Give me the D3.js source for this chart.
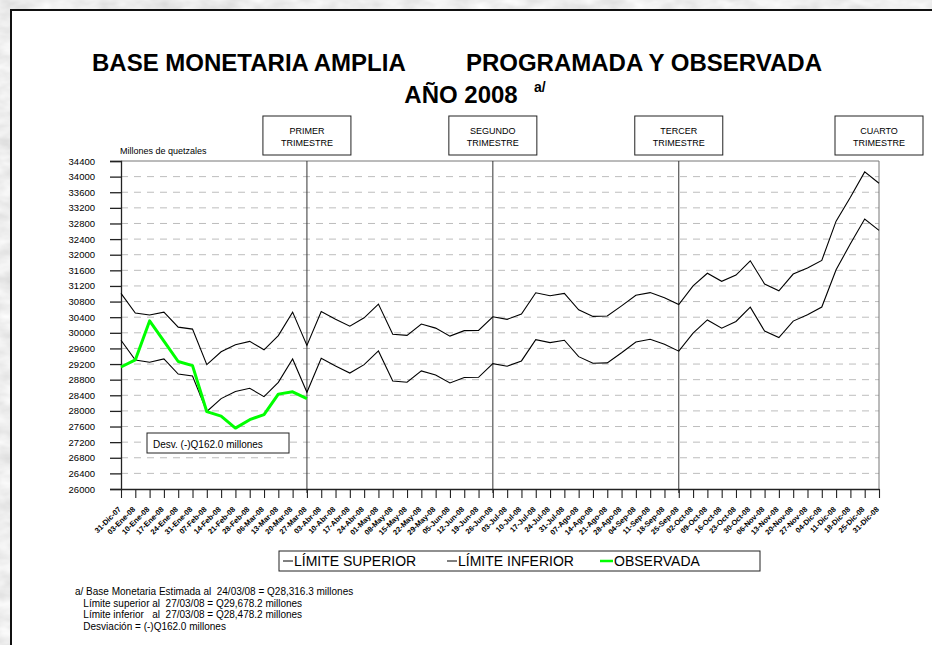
<!DOCTYPE html>
<html>
<head>
<meta charset="utf-8">
<script src="https://cdn.jsdelivr.net/npm/d3@7"></script>
<style>
  body { margin: 0; background: #d8d8d8; }
  text { font-family: Arial, "Liberation Sans", sans-serif; }
</style>
</head>
<body>
<div id="chart"></div>
<script>
(function () {

  // fechas semanales (eje x)
  var dates = ["31-Dic-07", "03-Ene-08", "10-Ene-08", "17-Ene-08", "24-Ene-08", "31-Ene-08",
    "07-Feb-08", "14-Feb-08", "21-Feb-08", "28-Feb-08", "06-Mar-08", "13-Mar-08", "20-Mar-08",
    "27-Mar-08", "03-Abr-08", "10-Abr-08", "17-Abr-08", "24-Abr-08", "01-May-08", "08-May-08",
    "15-May-08", "22-May-08", "29-May-08", "05-Jun-08", "12-Jun-08", "19-Jun-08", "26-Jun-08",
    "03-Jul-08", "10-Jul-08", "17-Jul-08", "24-Jul-08", "31-Jul-08", "07-Ago-08", "14-Ago-08",
    "21-Ago-08", "28-Ago-08", "04-Sep-08", "11-Sep-08", "18-Sep-08", "25-Sep-08", "02-Oct-08",
    "09-Oct-08", "16-Oct-08", "23-Oct-08", "30-Oct-08", "06-Nov-08", "13-Nov-08", "20-Nov-08",
    "27-Nov-08", "04-Dic-08", "11-Dic-08", "18-Dic-08", "25-Dic-08", "31-Dic-08"]

  var upper = [31010, 30505, 30455, 30530, 30145, 30095, 29185, 29515, 29695, 29780, 29565, 29930, 30530, 29678,
    30545, 30350, 30170, 30385, 30735, 29965, 29935, 30225, 30120, 29915, 30055, 30060, 30410,
    30345, 30480, 31025, 30950, 31010, 30590, 30420, 30430, 30690, 30960, 31030, 30900, 30725,
    31200, 31525, 31320, 31480, 31845, 31250, 31075, 31505, 31660, 31855, 32860, 33470, 34120, 33830]

  var lower = [29810, 29305, 29245, 29330, 28945, 28895, 27985, 28315, 28495, 28580, 28365, 28730, 29330, 28478,
    29345, 29150, 28970, 29185, 29535, 28765, 28735, 29025, 28920, 28715, 28855, 28860, 29210,
    29145, 29280, 29825, 29750, 29810, 29390, 29220, 29230, 29490, 29765, 29835, 29705, 29530,
    29990, 30330, 30120, 30290, 30655, 30045, 29880, 30300, 30465, 30660, 31615, 32280, 32915, 32625]

  var observed = [29125, 29305, 30305, 29785, 29265, 29160, 27980, 27865, 27560, 27775, 27905, 28430, 28490, 28316]

  var yTicks = [26000, 26400, 26800, 27200, 27600, 28000, 28400, 28800, 29200, 29600, 30000,
    30400, 30800, 31200, 31600, 32000, 32400, 32800, 33200, 33600, 34000, 34400]

  var quarterEnds = ["27-Mar-08", "26-Jun-08", "25-Sep-08"]
  var quarterBoxes = [
    { at: "27-Mar-08", l1: "PRIMER", l2: "TRIMESTRE" },
    { at: "26-Jun-08", l1: "SEGUNDO", l2: "TRIMESTRE" },
    { at: "25-Sep-08", l1: "TERCER", l2: "TRIMESTRE" },
    { at: "31-Dic-08", l1: "CUARTO", l2: "TRIMESTRE" }
  ]
  var legendItems = [
    { name: "LÍMITE SUPERIOR", color: "#000", w: 1, x: 283, len: 10 },
    { name: "LÍMITE INFERIOR", color: "#000", w: 1, x: 447, len: 10 },
    { name: "OBSERVADA", color: "#00ff00", w: 2.5, x: 600, len: 13 }
  ]
  var notes = [
    "a/ Base Monetaria Estimada al  24/03/08 = Q28,316.3 millones",
    "   Límite superior al  27/03/08 = Q29,678.2 millones",
    "   Límite inferior   al  27/03/08 = Q28,478.2 millones",
    "   Desviación = (-)Q162.0 millones"
  ]

  var W = 932, H = 645
  var plot = { left: 121, right: 879, top: 161, bottom: 489 }

  var svg = d3.select("#chart")
    .append("svg")
    .attr("width", W)
    .attr("height", H)
    .style("display", "block")

  // fondo tipo marmol
  var f = svg.append("defs").append("filter")
    .attr("id", "marble")
    .attr("x", 0).attr("y", 0).attr("width", "100%").attr("height", "100%")
  f.append("feTurbulence")
    .attr("type", "fractalNoise")
    .attr("baseFrequency", "0.04 0.08")
    .attr("numOctaves", 3)
    .attr("seed", 4)
  f.append("feColorMatrix")
    .attr("type", "matrix")
    .attr("values", "0 0 0 0.35 0.68  0 0 0 0.35 0.68  0 0 0 0.35 0.68  0 0 0 0 1")

  svg.append("rect")
    .attr("width", W).attr("height", H)
    .attr("filter", "url(#marble)")

  // panel blanco
  svg.append("rect")
    .attr("x", 11).attr("y", 10)
    .attr("width", W).attr("height", H)
    .attr("fill", "white")
  svg.append("path")
    .attr("d", "M11," + H + "V10H" + W)
    .attr("fill", "none")
    .attr("stroke", "#111")
    .attr("stroke-width", 2)

  var xPositionScale = d3.scalePoint()
    .domain(dates)
    .range([plot.left, plot.right])

  var yPositionScale = d3.scaleLinear()
    .domain([26000, 34400])
    .range([plot.bottom, plot.top])

  // grid
  svg.selectAll(".grid")
    .data(yTicks.slice(1, -1))
    .enter().append("line")
    .attr("class", "grid")
    .attr("x1", plot.left)
    .attr("x2", plot.right)
    .attr("y1", function(d) { return yPositionScale(d) })
    .attr("y2", function(d) { return yPositionScale(d) })
    .attr("stroke", "#bdbdbd")
    .attr("stroke-dasharray", "7,6")

  // marco
  svg.append("path")
    .attr("d", "M" + plot.left + "," + plot.top + "H" + plot.right + "V" + plot.bottom)
    .attr("fill", "none")
    .attr("stroke", "#777")

  svg.selectAll(".qline")
    .data(quarterEnds)
    .enter().append("line")
    .attr("class", "qline")
    .attr("x1", function(d) { return xPositionScale(d) })
    .attr("x2", function(d) { return xPositionScale(d) })
    .attr("y1", plot.top)
    .attr("y2", plot.bottom + 4)
    .attr("stroke", "#333")

  var yAxis = d3.axisLeft(yPositionScale)
    .tickValues(yTicks)
    .tickSize(11)
    .tickPadding(15)
    .tickFormat(function(d) { return d })

  var yg = svg.append("g")
    .attr("class", "axis y-axis")
    .attr("transform", "translate(" + plot.left + ",0)")
    .call(yAxis)
  yg.select(".domain").attr("stroke", "#222").attr("stroke-width", 1.3)
  yg.selectAll(".tick line").attr("stroke", "#222").attr("stroke-width", 1.3)
  yg.selectAll("text")
    .attr("font-size", "9.5px")
    .attr("fill", "#000")
    .attr("font-family", "Arial, 'Liberation Sans', sans-serif")

  var xAxis = d3.axisBottom(xPositionScale)
    .tickSize(9)
    .tickSizeOuter(0)

  var xg = svg.append("g")
    .attr("class", "axis x-axis")
    .attr("transform", "translate(0," + plot.bottom + ")")
    .call(xAxis)
  xg.select(".domain").attr("stroke", "#222").attr("stroke-width", 1.3)
  xg.selectAll(".tick line").attr("stroke", "#222").attr("stroke-width", 1.1)
  xg.selectAll("text")
    .attr("font-size", "7.5px")
    .attr("font-weight", "bold")
    .attr("fill", "#000")
    .attr("font-family", "Arial, 'Liberation Sans', sans-serif")
    .attr("text-anchor", "end")
    .attr("y", 0)
    .attr("dy", "0.35em")
    .attr("transform", "translate(-2,19) rotate(-45)")

  var line = d3.line()
    .x(function(d, i) { return xPositionScale(dates[i]) })
    .y(function(d) { return yPositionScale(d) })

  svg.append("path")
    .datum(upper)
    .attr("d", line)
    .attr("fill", "none")
    .attr("stroke", "#000")
    .attr("stroke-width", 1.1)

  svg.append("path")
    .datum(lower)
    .attr("d", line)
    .attr("fill", "none")
    .attr("stroke", "#000")
    .attr("stroke-width", 1.1)

  svg.append("path")
    .datum(observed)
    .attr("d", line)
    .attr("fill", "none")
    .attr("stroke", "#00ff00")
    .attr("stroke-width", 3)
    .attr("stroke-linejoin", "round")

  // cajas de trimestre
  var qb = svg.selectAll(".qbox")
    .data(quarterBoxes)
    .enter().append("g")
    .attr("class", "qbox")
    .attr("transform", function(d) { return "translate(" + xPositionScale(d.at) + ",0)" })
  qb.append("rect")
    .attr("x", -44).attr("y", 116)
    .attr("width", 88).attr("height", 39)
    .attr("fill", "white")
    .attr("stroke", "#222")
  qb.append("text")
    .text(function(d) { return d.l1 })
    .attr("y", 134)
    .attr("text-anchor", "middle")
    .attr("font-size", "9px")
  qb.append("text")
    .text(function(d) { return d.l2 })
    .attr("y", 146)
    .attr("text-anchor", "middle")
    .attr("font-size", "9px")

  svg.append("text")
    .text("Millones de quetzales")
    .attr("x", 120).attr("y", 154)
    .attr("font-size", "9px")

  // desviación
  svg.append("rect")
    .attr("x", 147).attr("y", 433)
    .attr("width", 142).attr("height", 20)
    .attr("fill", "white")
    .attr("stroke", "#222")
  svg.append("text")
    .text("Desv. (-)Q162.0 millones")
    .attr("x", 153).attr("y", 448)
    .attr("font-size", "10px")

  // titulo
  svg.append("text")
    .text("BASE MONETARIA AMPLIA")
    .attr("x", 92).attr("y", 71)
    .attr("font-size", "24px")
    .attr("font-weight", "bold")
  svg.append("text")
    .text("PROGRAMADA Y OBSERVADA")
    .attr("x", 822).attr("y", 71)
    .attr("text-anchor", "end")
    .attr("font-size", "24px")
    .attr("font-weight", "bold")
  svg.append("text")
    .text("AÑO 2008")
    .attr("x", 461).attr("y", 103)
    .attr("text-anchor", "middle")
    .attr("font-size", "24px")
    .attr("font-weight", "bold")
  svg.append("text")
    .text("a/")
    .attr("x", 534).attr("y", 92)
    .attr("font-size", "14px")
    .attr("font-weight", "bold")

  // leyenda
  svg.append("rect")
    .attr("x", 279).attr("y", 551)
    .attr("width", 481).attr("height", 20)
    .attr("fill", "white")
    .attr("stroke", "#222")
  var lg = svg.selectAll(".legend")
    .data(legendItems)
    .enter().append("g")
    .attr("class", "legend")
  lg.append("line")
    .attr("x1", function(d) { return d.x })
    .attr("x2", function(d) { return d.x + d.len })
    .attr("y1", 561).attr("y2", 561)
    .attr("stroke", function(d) { return d.color })
    .attr("stroke-width", function(d) { return d.w })
  lg.append("text")
    .text(function(d) { return d.name })
    .attr("x", function(d) { return d.x + d.len + 1 })
    .attr("y", 566)
    .attr("font-size", "14px")

  // notas
  svg.selectAll(".note")
    .data(notes)
    .enter().append("text")
    .attr("class", "note")
    .text(function(d) { return d })
    .attr("x", 75)
    .attr("y", function(d, i) { return 595 + i * 11.5 })
    .attr("font-size", "10px")
    .style("white-space", "pre")

})()
</script>
</body>
</html>
